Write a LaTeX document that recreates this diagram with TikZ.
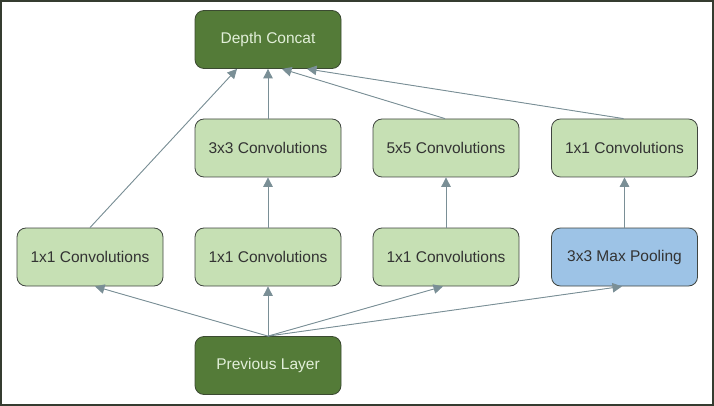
\documentclass[tikz,border=0pt]{standalone}
\usepackage{fontspec}
\setmainfont{Liberation Sans}
\usetikzlibrary{arrows.meta}
\definecolor{darkg}{HTML}{547B38}
\definecolor{darkgb}{HTML}{3B4A31}
\definecolor{lightg}{HTML}{C6E0B4}
\definecolor{lightb}{HTML}{9DC3E6}
\definecolor{boxb}{HTML}{404540}
\definecolor{txt}{HTML}{333333}
\definecolor{txtl}{HTML}{E2EFD9}
\definecolor{arrc}{HTML}{7A8F96}
\definecolor{framec}{HTML}{353C30}
\tikzset{
  box/.style={draw=boxb, line width=0.8pt, rounded corners=9pt, minimum width=146pt, minimum height=58pt, inner sep=0pt, font=\fontsize{15.5}{17}\selectfont, text=txt},
  darkbox/.style={box, fill=darkg, draw=darkgb, text=txtl},
  lightbox/.style={box, fill=lightg},
  bluebox/.style={box, fill=lightb},
  arr/.style={draw=arrc, line width=0.9pt, -{Triangle[length=9.5pt,width=9.5pt]}, fill=arrc}
}
\begin{document}
\begin{tikzpicture}[x=1pt,y=-1pt]
\useasboundingbox (0,0) rectangle (714,406);
\draw[framec, line width=1.6pt] (0.8,0.8) rectangle (712.8,404.8);
\node[darkbox] (dc) at (268,39.5) {Depth Concat};
\node[lightbox] (c3) at (268,148) {3x3 Convolutions};
\node[lightbox] (c5) at (446,148) {5x5 Convolutions};
\node[lightbox] (c1r) at (624.5,148) {1x1 Convolutions};
\node[lightbox] (a) at (90,257) {1x1 Convolutions};
\node[lightbox] (b) at (268,257) {1x1 Convolutions};
\node[lightbox] (c) at (446,257) {1x1 Convolutions};
\node[bluebox] (mp) at (624.5,257) {3x3 Max Pooling};
\node[darkbox] (prev) at (268,365.5) {Previous Layer};
% upper arrows
\draw[arr] (a.north) -- ([xshift=-31pt]dc.south);
\draw[arr] (c3.north) -- (dc.south);
\draw[arr] ([xshift=-1pt]c5.north) -- ([xshift=14pt]dc.south);
\draw[arr] ([xshift=-1pt]c1r.north) -- ([xshift=39pt]dc.south);
% middle arrows
\draw[arr] (b.north) -- (c3.south);
\draw[arr] (c.north) -- (c5.south);
\draw[arr] (mp.north) -- (c1r.south);
% lower arrows
\draw[arr] (prev.north) -- ([xshift=5pt]a.south);
\draw[arr] (prev.north) -- (b.south);
\draw[arr] (prev.north) -- ([xshift=-3pt]c.south);
\draw[arr] (prev.north) -- ([xshift=-2.5pt]mp.south);
\end{tikzpicture}
\end{document}
